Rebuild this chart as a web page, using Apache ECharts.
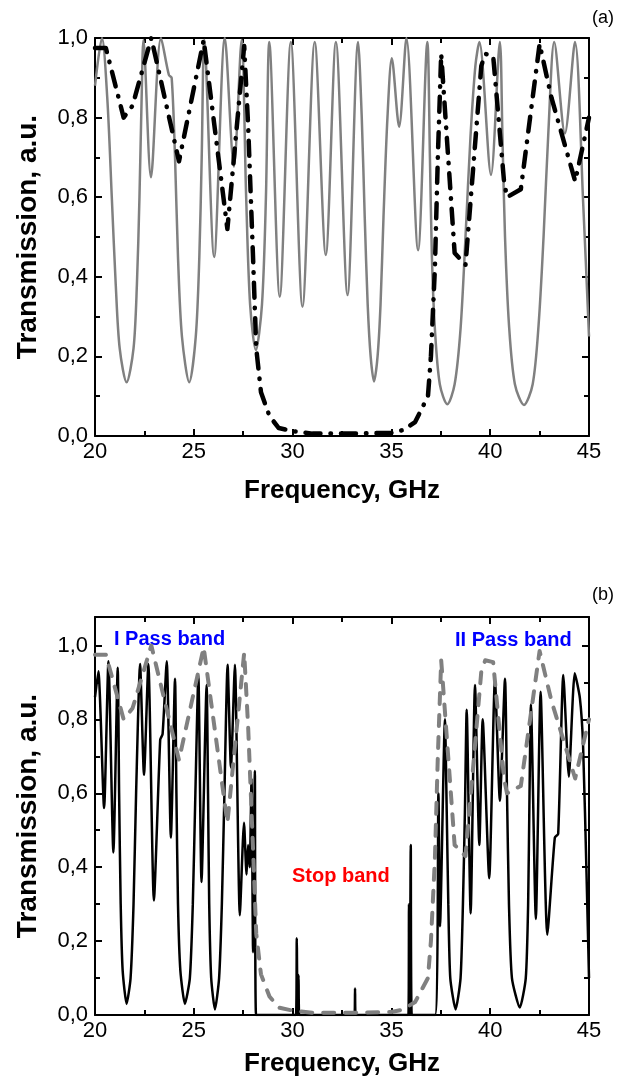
<!DOCTYPE html>
<html>
<head>
<meta charset="utf-8">
<script src="https://cdn.jsdelivr.net/npm/echarts@6/dist/echarts.min.js"></script>
<style>
  html, body { margin: 0; padding: 0; background: #fff; }
  #chart { width: 626px; height: 1086px; }
</style>
</head>
<body>
<div id="chart"></div>
<script>
// frequency range (GHz) and tick steps
const freqMin = 20;
const freqMax = 45;
const freqStep = 5;
const transStep = 0.2;

// (a) grey solid curve: [GHz, transmission]
const greyA = [
  [20.0, 0.88], [20.35, 1.0], [20.62, 0.85], [20.85, 0.6], [21.05, 0.38], [21.25, 0.22], [21.6, 0.135], [21.95, 0.22],
  [22.12, 0.38], [22.25, 0.6], [22.36, 0.85], [22.45, 0.995], [22.83, 0.65], [23.34, 1.0], [23.74, 0.907], [23.88, 0.9],
  [24.05, 0.7], [24.2, 0.45], [24.4, 0.25], [24.77, 0.135], [25.1, 0.25], [25.28, 0.45], [25.4, 0.7], [25.53, 0.995],
  [26.03, 0.45], [26.57, 1.0], [27.03, 0.677], [27.42, 0.995], [27.65, 0.6], [27.85, 0.33], [28.14, 0.216], [28.45, 0.33],
  [28.65, 0.6], [28.82, 0.99], [29.35, 0.35], [29.91, 0.99], [30.5, 0.325], [31.12, 0.99], [31.68, 0.455], [32.19, 0.99],
  [32.78, 0.354], [33.315, 0.99], [33.5, 0.8], [33.65, 0.55], [33.8, 0.33], [33.95, 0.2], [34.12, 0.137], [34.3, 0.2],
  [34.45, 0.33], [34.6, 0.55], [34.8, 0.8], [35.02, 0.949], [35.39, 0.777], [35.76, 1.0], [36.35, 0.467], [36.82, 0.99],
  [36.95, 0.7], [37.05, 0.45], [37.2, 0.27], [37.45, 0.13], [37.83, 0.08], [38.2, 0.13], [38.5, 0.27], [38.75, 0.5],
  [39.0, 0.75], [39.25, 0.93], [39.45, 0.99], [40.04, 0.656], [40.49, 0.99], [40.62, 0.75], [40.75, 0.5], [40.95, 0.28],
  [41.25, 0.13], [41.71, 0.078], [42.15, 0.13], [42.45, 0.28], [42.7, 0.5], [42.95, 0.77], [43.24, 0.99], [43.78, 0.76],
  [44.29, 0.99], [44.71, 0.58], [45.0, 0.25]
];

// envelope curve, dash-dot in (a) and grey dashed in (b)
const envelope = [
  [20.0, 0.975], [20.55, 0.975], [21.45, 0.8], [21.9, 0.83], [22.85, 1.0], [24.25, 0.69], [25.5, 0.995], [26.7, 0.52],
  [27.55, 0.98], [27.75, 0.78], [27.99, 0.46], [28.16, 0.22], [28.4, 0.11], [28.83, 0.05], [29.3, 0.02], [30.0, 0.012],
  [31.0, 0.006], [33.0, 0.006], [35.0, 0.008], [35.6, 0.015], [36.2, 0.035], [36.85, 0.1], [37.0, 0.2], [37.2, 0.42],
  [37.35, 0.7], [37.52, 0.96], [38.2, 0.46], [38.75, 0.43], [39.55, 0.93], [39.75, 0.96], [40.15, 0.955], [40.7, 0.64],
  [40.85, 0.6], [41.55, 0.62], [42.5, 0.985], [43.1, 0.85], [44.3, 0.64], [45.0, 0.8]
];

// (b) black solid curve
const blackB = [
  [20.0, 0.86], [20.17, 0.93], [20.46, 0.56], [20.68, 0.957], [20.93, 0.44], [21.15, 0.94],
  [21.22, 0.6], [21.3, 0.3], [21.4, 0.12], [21.6, 0.03], [21.8, 0.1], [21.95, 0.3], [22.08, 0.6], [22.28, 0.95],
  [22.48, 0.65], [22.7, 0.95], [22.98, 0.31], [23.3, 0.745], [23.42, 0.76], [23.63, 0.957], [23.84, 0.48], [24.05, 0.91],
  [24.12, 0.6], [24.2, 0.3], [24.32, 0.12], [24.55, 0.03], [24.8, 0.1], [24.95, 0.3], [25.08, 0.6], [25.23, 0.92],
  [25.39, 0.36], [25.65, 0.893],
  [25.72, 0.6], [25.78, 0.3], [25.88, 0.1], [26.07, 0.015], [26.28, 0.1], [26.42, 0.3], [26.55, 0.6], [26.71, 0.948],
  [26.88, 0.67], [27.08, 0.948], [27.33, 0.27], [27.54, 0.52], [27.67, 0.38], [27.75, 0.46], [27.83, 0.4], [27.92, 0.64],
  [28.0, 0.17], [28.09, 0.66], [28.15, 0.0],
  [30.17, 0.0], [30.21, 0.208], [30.25, 0.0], [30.3, 0.108], [30.34, 0.0],
  [33.13, 0.0], [33.16, 0.072], [33.19, 0.0],
  [35.86, 0.0], [35.89, 0.3], [35.93, 0.0], [35.98, 0.46], [36.03, 0.0],
  [37.21, 0.0], [37.38, 0.6], [37.46, 0.24], [37.71, 0.8],
  [37.8, 0.55], [37.88, 0.3], [37.98, 0.1], [38.25, 0.015], [38.5, 0.1], [38.62, 0.3], [38.72, 0.55], [38.81, 0.826],
  [39.01, 0.275], [39.23, 0.893], [39.45, 0.46], [39.62, 0.8], [39.95, 0.37], [40.24, 0.907], [40.49, 0.58], [40.75, 0.91],
  [40.85, 0.6], [40.95, 0.3], [41.1, 0.1], [41.5, 0.02], [41.8, 0.1], [41.92, 0.3], [41.99, 0.6], [42.06, 0.84],
  [42.31, 0.26], [42.55, 0.875], [42.89, 0.217], [43.27, 0.48], [43.44, 0.49], [43.7, 0.92], [43.98, 0.645], [44.28, 0.925],
  [44.54, 0.857], [44.7, 0.73], [44.88, 0.37], [45.0, 0.1]
];

const chart = echarts.init(document.getElementById("chart"));

const fmtComma = (v) => v.toFixed(1).replace(".", ",");
const black = "#000";
const grey = "#808080";

const tickStyle = { color: black, width: 2 };

const xAxisFor = (gridIndex, top, gap) => ({
  type: "value",
  gridIndex: gridIndex,
  position: top ? "top" : "bottom",
  min: freqMin,
  max: freqMax,
  interval: freqStep,
  axisLine: { onZero: false, lineStyle: { color: black, width: 2 } },
  axisTick: { inside: true, length: 7, lineStyle: tickStyle },
  minorTick: { show: true, splitNumber: 2, length: 5, lineStyle: tickStyle },
  splitLine: { show: false },
  axisLabel: top
    ? { show: false }
    : { color: black, fontSize: 22, fontFamily: "Arial", margin: 5 },
  name: top ? "" : "Frequency, GHz",
  nameLocation: "middle",
  nameGap: gap,
  nameTextStyle: { color: black, fontSize: 26, fontWeight: "bold", fontFamily: "Arial" },
});

const yAxisFor = (gridIndex, right, max) => ({
  type: "value",
  gridIndex: gridIndex,
  position: right ? "right" : "left",
  min: 0,
  max: max,
  interval: transStep,
  axisLine: { onZero: false, lineStyle: { color: black, width: 2 } },
  axisTick: { inside: true, length: 7, lineStyle: tickStyle },
  minorTick: { show: true, splitNumber: 2, length: 5, lineStyle: tickStyle },
  splitLine: { show: false },
  axisLabel: right
    ? { show: false }
    : { color: black, fontSize: 22, fontFamily: "Arial", margin: 7, showMaxLabel: max === 1, formatter: fmtComma },
  name: right ? "" : "Transmission, a.u.",
  nameLocation: "middle",
  nameGap: 53,
  nameTextStyle: { color: black, fontSize: 28, fontWeight: "bold", fontFamily: "Arial" },
});

const options = {
  animation: false,
  backgroundColor: "#fff",
  grid: [
    { left: 95, top: 38, width: 494, height: 398 },
    { left: 95, top: 617, width: 494, height: 398 },
  ],
  xAxis: [xAxisFor(0, false, 42), xAxisFor(0, true, 42), xAxisFor(1, false, 36), xAxisFor(1, true, 36)],
  yAxis: [yAxisFor(0, false, 1), yAxisFor(0, true, 1), yAxisFor(1, false, 1.077), yAxisFor(1, true, 1.077)],
  series: [
    {
      name: "grey a",
      type: "line",
      xAxisIndex: 0,
      yAxisIndex: 0,
      data: greyA,
      smooth: 0.3,
      showSymbol: false,
      lineStyle: { color: grey, width: 2.5 },
      z: 2,
    },
    {
      name: "envelope a",
      type: "line",
      xAxisIndex: 0,
      yAxisIndex: 0,
      data: envelope,
      showSymbol: false,
      lineStyle: { color: black, width: 4.5, type: [15, 10, 0.5, 10], cap: "round", join: "round" },
      z: 3,
    },
    {
      name: "black b",
      type: "line",
      xAxisIndex: 2,
      yAxisIndex: 2,
      data: blackB,
      smooth: 0.2,
      showSymbol: false,
      lineStyle: { color: black, width: 2.5 },
      z: 2,
    },
    {
      name: "envelope b",
      type: "line",
      xAxisIndex: 2,
      yAxisIndex: 2,
      data: envelope,
      showSymbol: false,
      lineStyle: { color: grey, width: 4, type: [11, 11], cap: "round", join: "round" },
      z: 3,
    },
  ],
  graphic: [
    { type: "text", left: 592, top: 9, style: { text: "(a)", fill: black, font: "18px Arial" } },
    { type: "text", left: 592, top: 586, style: { text: "(b)", fill: black, font: "18px Arial" } },
    { type: "text", left: 114, top: 629, style: { text: "I Pass band", fill: "#0000ff", font: "bold 20px Arial" } },
    { type: "text", left: 455, top: 630, style: { text: "II Pass band", fill: "#0000ff", font: "bold 20px Arial" } },
    { type: "text", left: 292, top: 866, style: { text: "Stop band", fill: "#ff0000", font: "bold 20px Arial" } },
  ],
};

chart.setOption(options);

window.addEventListener("resize", () => {
  chart.resize();
});
</script>
</body>
</html>
